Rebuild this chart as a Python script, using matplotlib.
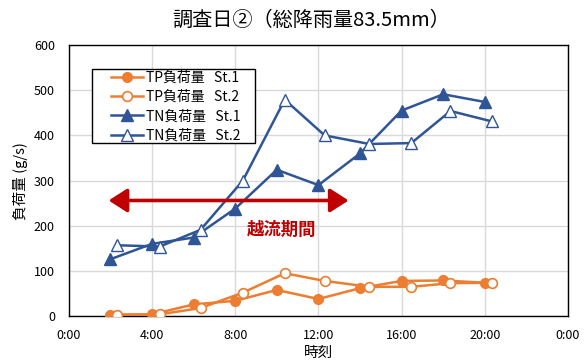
import matplotlib
matplotlib.use("Agg")
import matplotlib.pyplot as plt
from matplotlib.patches import FancyArrowPatch, Rectangle

plt.rcParams['font.family'] = ['Noto Sans CJK JP', 'DejaVu Sans']

# Sampling times (H:MM)
times_st1 = ["2:00", "4:00", "6:00", "8:00", "10:00", "12:00", "14:00", "16:00", "18:00", "20:00"]
times_st2 = ["2:18", "4:22", "6:20", "8:22", "10:23", "12:18", "14:27", "16:28", "18:21", "20:20"]

# Loads (g/s)
tp_st1 = [3, 4, 26, 34, 58, 38, 62, 78, 79, 74]
tp_st2 = [3, 4, 18, 52, 95, 78, 65, 65, 73, 74]
tn_st1 = [126, 160, 174, 238, 324, 290, 360, 455, 491, 474]
tn_st2 = [157, 154, 191, 300, 479, 400, 381, 383, 454, 431]

x_ticks = [0, 4, 8, 12, 16, 20, 24]
x_tick_labels = ["0:00", "4:00", "8:00", "12:00", "16:00", "20:00", "0:00"]
y_ticks = [0, 100, 200, 300, 400, 500, 600]

overflow_start = "1:55"
overflow_end = "13:27"
overflow_level = 256


def to_hours(t):
    h, m = t.split(":")
    return int(h) + int(m) / 60.0


x1 = [to_hours(t) for t in times_st1]
x2 = [to_hours(t) for t in times_st2]

orange = "#ED7D31"
blue = "#2F5597"
red = "#C00000"

fig = plt.figure(figsize=(5.88, 3.63), dpi=100)
ax = fig.add_axes([0.117, 0.129, 0.849, 0.747])

lw = 1.8
ax.plot(x1, tp_st1, color=orange, lw=lw, marker="o", ms=7,
        mfc=orange, mec=orange, label="TP負荷量   St.1", zorder=3)
ax.plot(x2, tp_st2, color=orange, lw=lw, marker="o", ms=7,
        mfc="white", mec=orange, mew=1.2, label="TP負荷量   St.2", zorder=3)
ax.plot(x1, tn_st1, color=blue, lw=lw, marker="^", ms=8,
        mfc=blue, mec=blue, label="TN負荷量   St.1", zorder=3)
ax.plot(x2, tn_st2, color=blue, lw=lw, marker="^", ms=8,
        mfc="white", mec=blue, mew=1.0, label="TN負荷量   St.2", zorder=3)

ax.set_xlim(0, 24)
ax.set_ylim(0, 600)
ax.set_xticks(x_ticks)
ax.set_xticklabels(x_tick_labels)
ax.set_yticks(y_ticks)
ax.tick_params(length=0, labelsize=9)
ax.tick_params(axis="x", pad=9)
ax.tick_params(axis="y", pad=10)
ax.grid(True, color="#D9D9D9", lw=1.0)
ax.set_axisbelow(True)
for s in ax.spines.values():
    s.set_color("black")
    s.set_linewidth(1.0)

ax.set_xlabel("時刻", fontsize=10.5, labelpad=3)
ax.set_ylabel("負荷量 (g/s)", fontsize=10.5, labelpad=4)
fig.text(0.53, 0.943, "調査日②（総降雨量83.5mm）", ha="center", va="center", fontsize=14.5)

# Overflow period arrow
arrow = FancyArrowPatch((to_hours(overflow_start), overflow_level),
                        (to_hours(overflow_end), overflow_level),
                        arrowstyle="<|-|>,head_length=7,head_width=4.5",
                        color=red, lw=2.6, mutation_scale=1.6,
                        shrinkA=0, shrinkB=0, zorder=4)
ax.add_patch(arrow)
ax.text(10.25, 190, "越流期間", color=red, fontsize=12.5, fontweight="bold",
        ha="center", va="center", zorder=4)

# Legend with a square black frame
ax.add_patch(Rectangle((0.046, 0.638), 0.327, 0.273, transform=ax.transAxes,
                       facecolor="white", edgecolor="black", lw=1.0, zorder=5))
leg = ax.legend(loc="upper left", bbox_to_anchor=(0.084, 0.905), fontsize=10,
                frameon=False, borderpad=0, labelspacing=0.38,
                handlelength=2.3, handletextpad=0.25, borderaxespad=0)
leg.set_zorder(6)

fig.savefig("out.png", dpi=100)
